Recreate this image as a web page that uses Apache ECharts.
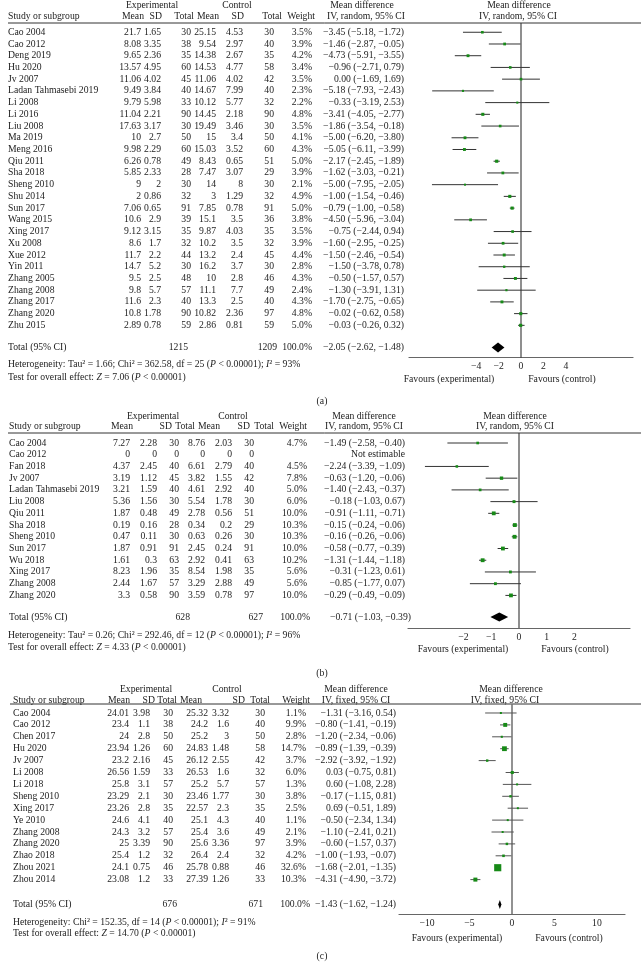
<!DOCTYPE html>
<html><head><meta charset="utf-8">
<script src="https://cdn.jsdelivr.net/npm/echarts@6.0.0/dist/echarts.min.js"></script>
<style>html,body{margin:0;padding:0;background:#fff}#c{width:641px;height:963px}</style>
</head><body><div id="c"></div>
<script>
// ---------- DATA: panel (a) ----------
const studiesA = ["Cao 2004","Cao 2012","Deng 2019","Hu 2020","Jv 2007","Ladan Tahmasebi 2019","Li 2008","Li 2016","Liu 2008","Ma 2019","Meng 2016","Qiu 2011","Sha 2018","Sheng 2010","Shu 2014","Sun 2017","Wang 2015","Xing 2017","Xu 2008","Xue 2012","Yin 2011","Zhang 2005","Zhang 2008","Zhang 2017","Zhang 2020","Zhu 2015"];
const expMeanA = ["21.7","8.08","9.65","13.57","11.06","9.49","9.79","11.04","17.63","10","9.98","6.26","5.85","9","2","7.06","10.6","9.12","8.6","11.7","14.7","9.5","9.8","11.6","10.8","2.89"];
const expSDA = ["1.65","3.35","2.36","4.95","4.02","3.84","5.98","2.21","3.17","2.7","2.29","0.78","2.33","2","0.86","0.65","2.9","3.15","1.7","2.2","5.2","2.5","5.7","2.3","1.78","0.78"];
const expNA = [30,38,35,60,45,40,33,90,30,50,60,49,28,30,32,91,39,35,32,44,30,48,57,40,90,59];
const ctlMeanA = ["25.15","9.54","14.38","14.53","11.06","14.67","10.12","14.45","19.49","15","15.03","8.43","7.47","14","3","7.85","15.1","9.87","10.2","13.2","16.2","10","11.1","13.3","10.82","2.86"];
const ctlSDA = ["4.53","2.97","2.67","4.77","4.02","7.99","5.77","2.18","3.46","3.4","3.52","0.65","3.07","8","1.29","0.78","3.5","4.03","3.5","2.4","3.7","2.8","7.7","2.5","2.36","0.81"];
const ctlNA = [30,40,35,58,42,40,32,90,30,50,60,51,29,30,32,91,36,35,32,45,30,46,49,40,97,59];
const weightA = [3.5,3.9,4.2,3.4,3.5,2.3,2.2,4.8,3.5,4.1,4.3,5.0,3.9,2.1,4.9,5.0,3.8,3.5,3.9,4.4,2.8,4.3,2.4,4.3,4.8,5.0];
const mdA = [-3.45,-1.46,-4.73,-0.96,0.00,-5.18,-0.33,-3.41,-1.86,-5.00,-5.05,-2.17,-1.62,-5.00,-1.00,-0.79,-4.50,-0.75,-1.60,-1.50,-1.50,-0.50,-1.30,-1.70,-0.02,-0.03];
const loA = [-5.18,-2.87,-5.91,-2.71,-1.69,-7.93,-3.19,-4.05,-3.54,-6.20,-6.11,-2.45,-3.03,-7.95,-1.54,-1.00,-5.96,-2.44,-2.95,-2.46,-3.78,-1.57,-3.91,-2.75,-0.62,-0.26];
const hiA = [-1.72,-0.05,-3.55,0.79,1.69,-2.43,2.53,-2.77,-0.18,-3.80,-3.99,-1.89,-0.21,-2.05,-0.46,-0.58,-3.04,0.94,-0.25,-0.54,0.78,0.57,1.31,-0.65,0.58,0.32];
const totalsA = [1215, 1209, 100.0, -2.05, -2.62, -1.48];
const ticksA = [-4,-2,0,2,4];

// ---------- DATA: panel (b) ----------
const studiesB = ["Cao 2004","Cao 2012","Fan 2018","Jv 2007","Ladan Tahmasebi 2019","Liu 2008","Qiu 2011","Sha 2018","Sheng 2010","Sun 2017","Wu 2018","Xing 2017","Zhang 2008","Zhang 2020"];
const expMeanB = ["7.27","0","4.37","3.19","3.21","5.36","1.87","0.19","0.47","1.87","1.61","8.23","2.44","3.3"];
const expSDB = ["2.28","0","2.45","1.12","1.59","1.56","0.48","0.16","0.11","0.91","0.3","1.96","1.67","0.58"];
const expNB = [30,0,40,45,40,30,49,28,30,91,63,35,57,90];
const ctlMeanB = ["8.76","0","6.61","3.82","4.61","5.54","2.78","0.34","0.63","2.45","2.92","8.54","3.29","3.59"];
const ctlSDB = ["2.03","0","2.79","1.55","2.92","1.78","0.56","0.2","0.26","0.24","0.41","1.98","2.88","0.78"];
const ctlNB = [30,0,40,42,40,30,51,29,30,91,63,35,49,97];
const weightB = [4.7,null,4.5,7.8,5.0,6.0,10.0,10.3,10.3,10.0,10.2,5.6,5.6,10.0];
const mdB = [-1.49,null,-2.24,-0.63,-1.40,-0.18,-0.91,-0.15,-0.16,-0.58,-1.31,-0.31,-0.85,-0.29];
const loB = [-2.58,null,-3.39,-1.20,-2.43,-1.03,-1.11,-0.24,-0.26,-0.77,-1.44,-1.23,-1.77,-0.49];
const hiB = [-0.40,null,-1.09,-0.06,-0.37,0.67,-0.71,-0.06,-0.06,-0.39,-1.18,0.61,0.07,-0.09];
const totalsB = [628, 627, 100.0, -0.71, -1.03, -0.39];
const ticksB = [-2,-1,0,1,2];

// ---------- DATA: panel (c) ----------
const studiesC = ["Cao 2004","Cao 2012","Chen 2017","Hu 2020","Jv 2007","Li 2008","Li 2018","Sheng 2010","Xing 2017","Ye 2010","Zhang 2008","Zhang 2020","Zhao 2018","Zhou 2021","Zhou 2014"];
const expMeanC = ["24.01","23.4","24","23.94","23.2","26.56","25.8","23.29","23.26","24.6","24.3","25","25.4","24.1","23.08"];
const expSDC = ["3.98","1.1","2.8","1.26","2.16","1.59","3.1","2.1","2.8","4.1","3.2","3.39","1.2","0.75","1.2"];
const expNC = [30,38,50,60,45,33,57,30,35,40,57,90,32,46,33];
const ctlMeanC = ["25.32","24.2","25.2","24.83","26.12","26.53","25.2","23.46","22.57","25.1","25.4","25.6","26.4","25.78","27.39"];
const ctlSDC = ["3.32","1.6","3","1.48","2.55","1.6","5.7","1.77","2.3","4.3","3.6","3.36","2.4","0.88","1.26"];
const ctlNC = [30,40,50,58,42,32,57,30,35,40,49,97,32,46,33];
const weightC = [1.1,9.9,2.8,14.7,3.7,6.0,1.3,3.8,2.5,1.1,2.1,3.9,4.2,32.6,10.3];
const mdC = [-1.31,-0.80,-1.20,-0.89,-2.92,0.03,0.60,-0.17,0.69,-0.50,-1.10,-0.60,-1.00,-1.68,-4.31];
const loC = [-3.16,-1.41,-2.34,-1.39,-3.92,-0.75,-1.08,-1.15,-0.51,-2.34,-2.41,-1.57,-1.93,-2.01,-4.90];
const hiC = [0.54,-0.19,-0.06,-0.39,-1.92,0.81,2.28,0.81,1.89,1.34,0.21,0.37,-0.07,-1.35,-3.72];
const totalsC = [676, 671, 100.0, -1.43, -1.62, -1.24];
const ticksC = [-10,-5,0,5,10];

// ---------- STYLE / LAYOUT ----------
const FF = '"Liberation Serif","Times New Roman",serif';
const FS = 9.7;
const FONT = FS + 'px ' + FF;
const IFONT = 'italic ' + FS + 'px ' + FF;
const INK = '#222';
const GREEN = '#178a17';

function fmt(v){ return (v < 0 ? '\u2212' : '') + Math.abs(v).toFixed(2); }
function ciText(m,l,h){ return m == null ? 'Not estimable' : fmt(m) + ' (' + fmt(l) + ', ' + fmt(h) + ')'; }
function wText(w){ return w == null ? '' : w.toFixed(1) + '%'; }

const panels = [
  { names: studiesA, em: expMeanA, esd: expSDA, en: expNA, cm: ctlMeanA, csd: ctlSDA, cn: ctlNA, w: weightA, md: mdA, lo: loA, hi: hiA, tot: totalsA, ticks: ticksA,
    grid: {left: 409, top: 23, width: 224, height: 334.7}, ymin: -0.79, ymax: 27.76, xmin: -10, xmax: 10, totRow: 26.9,
    nameX: 8, cols: [141,161,191,216,243,274,312], ciX: 404, totX: [188,277,312,404], dh: 5,
    zeroColor: '#333', zeroW: 1.1, ciColor: '#333', sq: 1.4,
    method: 'IV, random, 95% CI',
    head: {y1: 5, y2: 16, exp: 152, ctl: 237, md1: 362, iv1: 366, md2: 519, iv2: 518, hx: [144,162,194,219,244,282,315]},
    het: 'Heterogeneity: Tau\u00b2 = 1.66; Chi\u00b2 = 362.58, df = 25 ({i|P} < 0.00001); {i|I}\u00b2 = 93%',
    test: 'Test for overall effect: {i|Z} = 7.06 ({i|P} < 0.00001)', footX: 8, hetY: 364, testY: 377,
    fav: {y: 379, e: 449, c: 562}, label: '(a)', labelY: 401 },
  { names: studiesB, em: expMeanB, esd: expSDB, en: expNB, cm: ctlMeanB, csd: ctlSDB, cn: ctlNB, w: weightB, md: mdB, lo: loB, hi: hiB, tot: totalsB, ticks: ticksB,
    grid: {left: 408, top: 433, width: 222, height: 195}, ymin: -0.853, ymax: 15.78, xmin: -4, xmax: 4, totRow: 14.85,
    nameX: 9, cols: [130,157,179,205,232,254,307], ciX: 405, totX: [190,263,310,411], dh: 4.5,
    zeroColor: '#333', zeroW: 1.1, ciColor: '#333', sq: 1.2,
    method: 'IV, random, 95% CI',
    head: {y1: 416, y2: 426, exp: 153, ctl: 233, md1: 364, iv1: 364, md2: 515, iv2: 515, hx: [133,172,195,220,250,274,307]},
    het: 'Heterogeneity: Tau\u00b2 = 0.26; Chi\u00b2 = 292.46, df = 12 ({i|P} < 0.00001); {i|I}\u00b2 = 96%',
    test: 'Test for overall effect: {i|Z} = 4.33 ({i|P} < 0.00001)', footX: 8, hetY: 635, testY: 647,
    fav: {y: 649, e: 463, c: 575}, label: '(b)', labelY: 673 },
  { names: studiesC, em: expMeanC, esd: expSDC, en: expNC, cm: ctlMeanC, csd: ctlSDC, cn: ctlNC, w: weightC, md: mdC, lo: loC, hi: hiC, tot: totalsC, ticks: ticksC,
    grid: {left: 399, top: 704, width: 226, height: 210}, ymin: -0.756, ymax: 16.89, xmin: -13.3, xmax: 13.3, totRow: 16.09,
    nameX: 13, cols: [129,150,173,208,229,265,306], ciX: 396, totX: [177,263,310,396], dh: 4.5,
    zeroColor: '#777', zeroW: 1.6, ciColor: '#555', sq: 1.25,
    method: 'IV, fixed, 95% CI',
    head: {y1: 689, y2: 700, exp: 146, ctl: 227, md1: 356, iv1: 356, md2: 511, iv2: 505, hx: [130,155,177,202,245,270,310]},
    het: 'Heterogeneity: Chi\u00b2 = 152.35, df = 14 ({i|P} < 0.00001); {i|I}\u00b2 = 91%',
    test: 'Test for overall effect: {i|Z} = 14.70 ({i|P} < 0.00001)', footX: 13, hetY: 922, testY: 933,
    fav: {y: 938, e: 457, c: 569}, label: '(c)', labelY: 956 }
];

function tstyle(text, align, extra){
  return Object.assign({ text: text, font: FONT, fill: INK, align: align, verticalAlign: 'middle', textAlign: align, textVerticalAlign: 'middle' }, extra || {});
}
function gtext(text, x, y, align, rich){
  const st = tstyle(text, align);
  if (rich) st.rich = { i: { font: IFONT, fill: INK } };
  return { type: 'text', x: x, y: y, silent: true, style: st };
}

const graphics = [];
const series = [];
panels.forEach(function(p, k){
  const h = p.head;
  // headers
  graphics.push(gtext('Experimental', h.exp, h.y1, 'center'));
  graphics.push(gtext('Control', h.ctl, h.y1, 'center'));
  graphics.push(gtext('Mean difference', h.md1, h.y1, 'center'));
  graphics.push(gtext('Mean difference', h.md2, h.y1, 'center'));
  graphics.push(gtext('Study or subgroup', p.nameX, h.y2, 'left'));
  ['Mean','SD','Total','Mean','SD','Total','Weight'].forEach(function(t, j){ graphics.push(gtext(t, h.hx[j], h.y2, 'right')); });
  graphics.push(gtext(p.method, h.iv1, h.y2, 'center'));
  graphics.push(gtext(p.method, h.iv2, h.y2, 'center'));
  graphics.push({ type: 'line', silent: true, shape: { x1: p.nameX === 13 ? 10 : 8, y1: p.grid.top, x2: 641, y2: p.grid.top }, style: { stroke: '#333', lineWidth: 1 } });
  // footnotes
  graphics.push(gtext(p.het, p.footX, p.hetY, 'left', true));
  graphics.push(gtext(p.test, p.footX, p.testY, 'left', true));
  graphics.push(gtext('Favours (experimental)', p.fav.e, p.fav.y, 'center'));
  graphics.push(gtext('Favours (control)', p.fav.c, p.fav.y, 'center'));
  graphics.push(gtext(p.label, 322, p.labelY, 'center'));

  // table rows (text positioned on the row scale of the y axis)
  series.push({
    type: 'custom', xAxisIndex: k, yAxisIndex: k, clip: false, silent: true,
    data: p.names.map(function(n, i){ return [0, i]; }),
    renderItem: function(params, api){
      const i = params.dataIndex;
      const y = api.coord([0, api.value(1)])[1];
      const cells = [p.em[i], p.esd[i], String(p.en[i]), p.cm[i], p.csd[i], String(p.cn[i]), wText(p.w[i])];
      const ch = [{ type: 'text', style: Object.assign(tstyle(p.names[i], 'left'), { x: p.nameX, y: y }) }];
      cells.forEach(function(c, j){ ch.push({ type: 'text', style: Object.assign(tstyle(c, 'right'), { x: p.cols[j], y: y }) }); });
      ch.push({ type: 'text', style: Object.assign(tstyle(ciText(p.md[i], p.lo[i], p.hi[i]), 'right'), { x: p.ciX, y: y }) });
      return { type: 'group', children: ch };
    }
  });
  // zero line
  series.push({
    type: 'line', xAxisIndex: k, yAxisIndex: k, silent: true, showSymbol: false, symbol: 'none',
    data: [[0, p.ymin], [0, p.ymax]], lineStyle: { color: p.zeroColor, width: p.zeroW }, z: 1
  });
  // CI lines + weight squares
  const fd = [];
  p.md.forEach(function(m, i){ if (m != null) fd.push([m, i, p.lo[i], p.hi[i], p.w[i]]); });
  series.push({
    type: 'custom', xAxisIndex: k, yAxisIndex: k, clip: false, silent: true, z: 3,
    data: fd,
    renderItem: function(params, api){
      const r = api.value(1);
      const c = api.coord([api.value(0), r]);
      const a = api.coord([api.value(2), r]);
      const b = api.coord([api.value(3), r]);
      const s = Math.max(2, p.sq * Math.sqrt(api.value(4)));
      return { type: 'group', children: [
        { type: 'line', shape: { x1: a[0], y1: a[1], x2: b[0], y2: b[1] }, style: { stroke: p.ciColor, lineWidth: 1 } },
        { type: 'rect', shape: { x: c[0] - s / 2, y: c[1] - s / 2, width: s, height: s }, style: { fill: GREEN } }
      ] };
    }
  });
  // total row: diamond + texts
  series.push({
    type: 'custom', xAxisIndex: k, yAxisIndex: k, clip: false, silent: true, z: 4,
    data: [[p.tot[3], p.totRow, p.tot[4], p.tot[5]]],
    renderItem: function(params, api){
      const r = api.value(1);
      const c = api.coord([api.value(0), r]);
      const a = api.coord([api.value(2), r]);
      const b = api.coord([api.value(3), r]);
      const y = c[1];
      return { type: 'group', children: [
        { type: 'polygon', shape: { points: [[a[0], y], [c[0], y - p.dh], [b[0], y], [c[0], y + p.dh]] }, style: { fill: '#000' } },
        { type: 'text', style: Object.assign(tstyle('Total (95% CI)', 'left'), { x: p.nameX, y: y }) },
        { type: 'text', style: Object.assign(tstyle(String(p.tot[0]), 'right'), { x: p.totX[0], y: y }) },
        { type: 'text', style: Object.assign(tstyle(String(p.tot[1]), 'right'), { x: p.totX[1], y: y }) },
        { type: 'text', style: Object.assign(tstyle(p.tot[2].toFixed(1) + '%', 'right'), { x: p.totX[2], y: y }) },
        { type: 'text', style: Object.assign(tstyle(ciText(p.tot[3], p.tot[4], p.tot[5]), 'right'), { x: p.totX[3], y: y }) }
      ] };
    }
  });
});

const option = {
  animation: false,
  backgroundColor: '#fff',
  grid: panels.map(function(p){ return Object.assign({ containLabel: false, outerBoundsMode: 'none', show: false }, p.grid); }),
  xAxis: panels.map(function(p, k){ return {
    gridIndex: k, type: 'value', min: p.xmin, max: p.xmax, position: 'bottom',
    axisLine: { show: true, onZero: false, lineStyle: { color: '#666', width: 1.2 } },
    axisTick: { show: false }, splitLine: { show: false },
    axisLabel: { customValues: p.ticks, margin: 4, fontFamily: FF, fontSize: FS, color: INK,
      formatter: function(v){ return v < 0 ? '\u2212' + Math.abs(v) : String(v); } }
  }; }),
  yAxis: panels.map(function(p, k){ return { gridIndex: k, type: 'value', min: p.ymin, max: p.ymax, inverse: true, show: false,
    axisLine: { show: false }, axisTick: { show: false }, splitLine: { show: false }, axisLabel: { show: false } }; }),
  graphic: { elements: graphics },
  series: series
};

const chart = echarts.init(document.getElementById('c'), null, { renderer: 'canvas' });
chart.setOption(option);
</script>
</body></html>
